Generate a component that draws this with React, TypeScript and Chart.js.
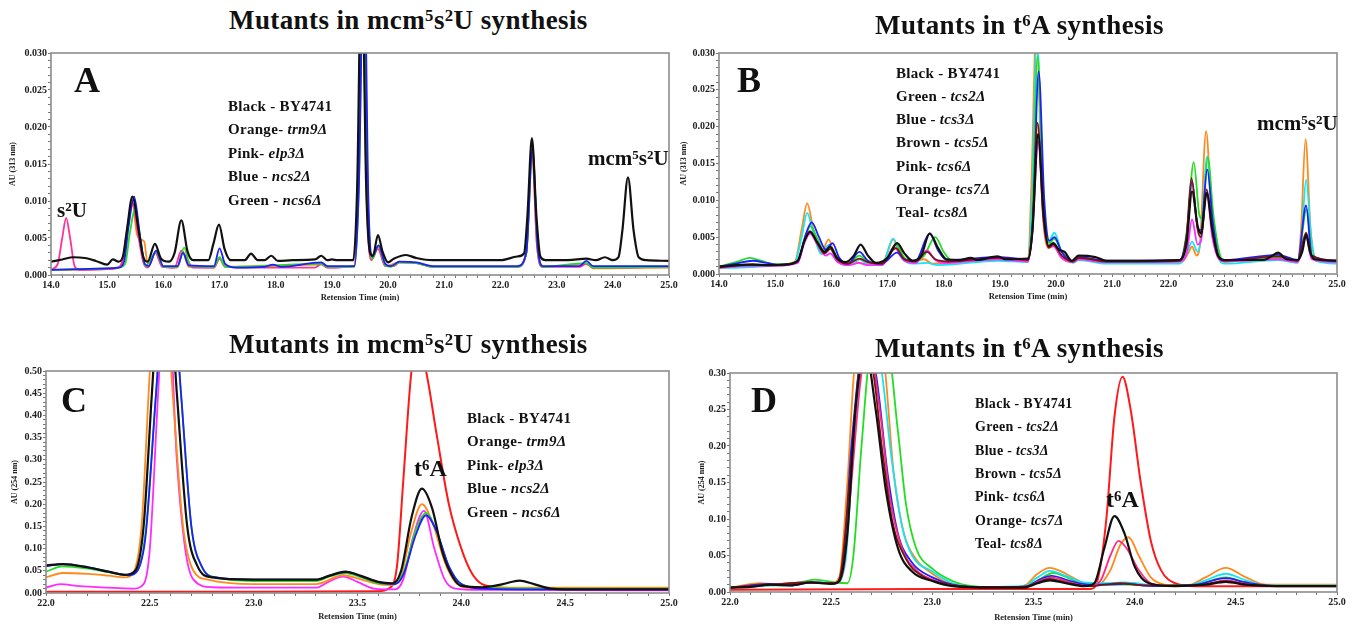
import React, { useEffect, useRef } from "react";
import { Chart, registerables } from "chart.js";
Chart.register(...registerables);

type Pt = [number, number];
const SERIF = "'Liberation Serif', 'Times New Roman', serif";

// ---------- tick labels ----------
const AB_X_TICKS = ["14.0", "15.0", "16.0", "17.0", "18.0", "19.0", "20.0", "21.0", "22.0", "23.0", "24.0", "25.0"];
const AB_Y_TICKS = ["0.000", "0.005", "0.010", "0.015", "0.020", "0.025", "0.030"];
const CD_X_TICKS = ["22.0", "22.5", "23.0", "23.5", "24.0", "24.5", "25.0"];
const C_Y_TICKS = ["0.00", "0.05", "0.10", "0.15", "0.20", "0.25", "0.30", "0.35", "0.40", "0.45", "0.50"];
const D_Y_TICKS = ["0.00", "0.05", "0.10", "0.15", "0.20", "0.25", "0.30"];

// ---------- Panel A (313 nm) ----------
const A_BLACK: Pt[] = [[14.0,0.0018],[14.2,0.0021],[14.4,0.0024],[14.6,0.0023],[14.8,0.0019],[15.0,0.0014],[15.1,0.0021],[15.2,0.0018],[15.28,0.0025],[15.35,0.006],[15.45,0.0106],[15.56,0.006],[15.64,0.0025],[15.72,0.0018],[15.85,0.0042],[15.96,0.0022],[16.1,0.0018],[16.2,0.003],[16.32,0.0074],[16.43,0.0032],[16.53,0.002],[16.8,0.002],[16.89,0.0042],[16.99,0.0068],[17.09,0.0035],[17.2,0.002],[17.45,0.002],[17.56,0.0029],[17.68,0.002],[17.8,0.002],[17.92,0.0026],[18.04,0.0019],[18.3,0.002],[18.7,0.0021],[18.81,0.0026],[18.92,0.002],[19.0,0.0021],[19.1,0.002],[19.38,0.002],[19.45,0.012],[19.53,0.045],[19.61,0.012],[19.68,0.003],[19.73,0.0026],[19.82,0.0054],[19.9,0.0032],[20.0,0.0017],[20.1,0.0022],[20.32,0.0027],[20.5,0.0023],[20.8,0.002],[21.5,0.002],[22.0,0.002],[22.3,0.0025],[22.42,0.0029],[22.48,0.008],[22.56,0.0185],[22.64,0.008],[22.71,0.0025],[22.8,0.002],[23.2,0.002],[23.53,0.0022],[23.7,0.002],[23.86,0.0024],[24.0,0.002],[24.1,0.0024],[24.17,0.006],[24.27,0.0132],[24.37,0.006],[24.46,0.0024],[24.6,0.002],[25.0,0.0019]];
const A_PINK: Pt[] = [[14.0,0.0007],[14.12,0.0015],[14.2,0.005],[14.27,0.0077],[14.34,0.005],[14.42,0.0012],[14.5,0.0007],[15.0,0.0008],[15.2,0.001],[15.28,0.0022],[15.36,0.0065],[15.45,0.0098],[15.55,0.0055],[15.64,0.0018],[15.72,0.001],[15.86,0.003],[15.98,0.0011],[16.2,0.001],[16.32,0.0033],[16.42,0.0022],[16.52,0.001],[16.9,0.001],[17.0,0.0022],[17.1,0.0012],[17.5,0.001],[18.0,0.001],[18.7,0.001],[18.81,0.0015],[18.92,0.001],[19.4,0.0012],[19.47,0.015],[19.54,0.04],[19.62,0.01],[19.7,0.002],[19.82,0.0035],[19.95,0.0012],[20.1,0.0012],[20.2,0.0017],[20.5,0.0016],[20.8,0.0011],[22.3,0.0011],[22.46,0.003],[22.56,0.017],[22.65,0.004],[22.75,0.0011],[23.4,0.0011],[23.53,0.0015],[23.65,0.001],[24.0,0.001],[25.0,0.0011]];
const A_ORANGE: Pt[] = [[14.0,0.0007],[14.5,0.0007],[15.0,0.0008],[15.2,0.001],[15.28,0.002],[15.36,0.006],[15.45,0.0095],[15.53,0.0055],[15.6,0.0048],[15.66,0.0045],[15.72,0.0015],[15.86,0.003],[15.98,0.0011],[16.25,0.001],[16.34,0.0032],[16.45,0.0011],[16.9,0.001],[17.0,0.0022],[17.1,0.0011],[18.81,0.0014],[18.92,0.001],[19.4,0.0012],[19.47,0.015],[19.55,0.045],[19.63,0.01],[19.7,0.002],[19.82,0.0038],[19.95,0.0012],[20.2,0.0017],[20.5,0.0016],[20.8,0.0011],[22.3,0.0011],[22.46,0.003],[22.56,0.017],[22.65,0.004],[22.75,0.0011],[23.53,0.0015],[23.65,0.0009],[25.0,0.001]];
const A_BLUE: Pt[] = [[14.0,0.0007],[14.5,0.0008],[15.0,0.0009],[15.2,0.001],[15.3,0.0018],[15.38,0.0065],[15.48,0.0106],[15.58,0.0055],[15.67,0.0015],[15.74,0.0012],[15.87,0.0033],[16.0,0.0012],[16.25,0.0012],[16.35,0.003],[16.45,0.0013],[16.9,0.0012],[17.0,0.0036],[17.1,0.0015],[17.3,0.001],[17.8,0.0011],[17.95,0.0014],[18.1,0.0011],[18.81,0.0017],[18.92,0.0012],[19.4,0.0012],[19.48,0.012],[19.57,0.045],[19.65,0.01],[19.72,0.0025],[19.83,0.004],[19.95,0.0015],[20.05,0.0012],[20.2,0.0018],[20.5,0.0017],[20.8,0.0012],[22.3,0.0012],[22.46,0.003],[22.57,0.017],[22.66,0.004],[22.76,0.0012],[23.4,0.0012],[23.53,0.0019],[23.65,0.0012],[24.0,0.0012],[25.0,0.0012]];
const A_GREEN: Pt[] = [[14.0,0.0007],[14.5,0.0008],[15.0,0.0009],[15.2,0.001],[15.32,0.0015],[15.41,0.006],[15.5,0.009],[15.59,0.005],[15.68,0.0012],[15.87,0.0031],[16.0,0.0011],[16.25,0.0011],[16.37,0.0037],[16.48,0.0012],[16.9,0.0011],[17.0,0.0024],[17.1,0.0011],[18.81,0.0015],[18.92,0.0011],[19.4,0.0011],[19.48,0.012],[19.56,0.045],[19.64,0.01],[19.72,0.0022],[19.83,0.004],[19.95,0.0013],[20.05,0.0011],[20.2,0.0017],[20.5,0.0016],[20.8,0.0011],[22.3,0.0011],[22.46,0.003],[22.57,0.017],[22.66,0.004],[22.76,0.0011],[23.53,0.0016],[23.65,0.001],[25.0,0.0011]];

// ---------- Panel B (313 nm) ----------
const B_BLACK: Pt[] = [[14.0,0.001],[14.3,0.0012],[14.6,0.0013],[14.9,0.0012],[15.2,0.0013],[15.4,0.0018],[15.52,0.0045],[15.62,0.0057],[15.75,0.0043],[15.88,0.003],[15.98,0.0037],[16.1,0.0022],[16.25,0.0016],[16.4,0.0025],[16.52,0.004],[16.65,0.0025],[16.8,0.0015],[17.0,0.0022],[17.17,0.0042],[17.3,0.0028],[17.45,0.0018],[17.6,0.0025],[17.75,0.0055],[17.9,0.0035],[18.05,0.002],[18.3,0.0019],[18.48,0.0022],[18.6,0.0019],[18.96,0.0024],[19.1,0.002],[19.5,0.0021],[19.58,0.006],[19.68,0.019],[19.78,0.008],[19.87,0.0038],[19.95,0.0042],[20.05,0.0033],[20.15,0.003],[20.28,0.0018],[20.4,0.0025],[20.7,0.0023],[20.9,0.0018],[21.5,0.0018],[22.2,0.0019],[22.32,0.004],[22.42,0.0112],[22.52,0.0065],[22.58,0.0055],[22.68,0.011],[22.78,0.006],[22.88,0.0025],[23.0,0.0019],[23.7,0.0019],[23.85,0.0025],[23.95,0.0029],[24.1,0.002],[24.3,0.0019],[24.38,0.003],[24.45,0.0053],[24.52,0.003],[24.6,0.002],[25.0,0.0018]];
const B_BROWN: Pt[] = [[14.0,0.0009],[14.5,0.0012],[15.0,0.0012],[15.4,0.0017],[15.52,0.0045],[15.62,0.0058],[15.75,0.0042],[15.88,0.0028],[15.98,0.0034],[16.1,0.002],[16.3,0.0014],[16.5,0.0021],[16.65,0.0016],[16.9,0.0014],[17.15,0.0035],[17.3,0.002],[17.5,0.0017],[17.7,0.003],[17.85,0.002],[18.1,0.0017],[18.96,0.0022],[19.5,0.0019],[19.58,0.006],[19.67,0.0205],[19.77,0.008],[19.87,0.0036],[19.95,0.004],[20.1,0.0025],[20.3,0.0017],[20.4,0.0022],[20.9,0.0017],[22.2,0.0018],[22.32,0.005],[22.41,0.013],[22.52,0.006],[22.58,0.005],[22.68,0.0115],[22.78,0.006],[22.9,0.0022],[23.0,0.0018],[23.95,0.0024],[24.3,0.0018],[24.45,0.0056],[24.55,0.0025],[25.0,0.0018]];
const B_GREEN: Pt[] = [[14.0,0.001],[14.3,0.0016],[14.55,0.0022],[14.75,0.0018],[15.0,0.0013],[15.4,0.0017],[15.53,0.005],[15.63,0.0065],[15.75,0.0048],[15.88,0.003],[16.0,0.0035],[16.12,0.002],[16.3,0.0014],[16.5,0.0025],[16.65,0.0016],[16.9,0.0014],[17.15,0.004],[17.3,0.0022],[17.5,0.0017],[17.65,0.0025],[17.85,0.005],[18.0,0.003],[18.15,0.0018],[18.96,0.0022],[19.5,0.0018],[19.58,0.008],[19.67,0.0295],[19.77,0.01],[19.88,0.0042],[19.97,0.0048],[20.1,0.003],[20.28,0.0017],[20.4,0.0022],[20.9,0.0017],[22.2,0.0018],[22.33,0.006],[22.45,0.0152],[22.55,0.008],[22.6,0.0075],[22.7,0.0158],[22.8,0.008],[22.92,0.0025],[23.0,0.0018],[23.95,0.0022],[24.3,0.0019],[24.46,0.0088],[24.56,0.0025],[25.0,0.0017]];
const B_BLUE: Pt[] = [[14.0,0.001],[14.3,0.0014],[14.6,0.0018],[14.85,0.0015],[15.1,0.0012],[15.4,0.0017],[15.55,0.0055],[15.65,0.007],[15.78,0.005],[15.9,0.0033],[16.02,0.0042],[16.14,0.0022],[16.3,0.0014],[16.5,0.003],[16.65,0.0018],[16.9,0.0014],[17.17,0.0029],[17.3,0.002],[17.5,0.0018],[17.75,0.0055],[17.9,0.0032],[18.05,0.0019],[18.96,0.0023],[19.5,0.002],[19.59,0.008],[19.69,0.0275],[19.79,0.01],[19.88,0.0045],[19.97,0.005],[20.1,0.003],[20.28,0.0018],[20.4,0.0023],[20.9,0.0018],[22.2,0.0019],[22.32,0.005],[22.42,0.0125],[22.53,0.006],[22.58,0.006],[22.69,0.0142],[22.79,0.007],[22.9,0.0023],[23.0,0.0019],[23.95,0.0026],[24.3,0.0019],[24.45,0.0093],[24.55,0.0025],[25.0,0.0018]];
const B_PINK: Pt[] = [[14.0,0.0008],[14.5,0.0011],[15.0,0.0011],[15.4,0.0015],[15.52,0.0042],[15.62,0.0055],[15.75,0.004],[15.9,0.0025],[15.98,0.0028],[16.1,0.0017],[16.3,0.0012],[16.5,0.0015],[16.65,0.0012],[16.9,0.0012],[17.12,0.0036],[17.3,0.0018],[17.5,0.0015],[17.7,0.0032],[17.85,0.0019],[18.0,0.0015],[18.96,0.002],[19.5,0.0017],[19.58,0.006],[19.68,0.018],[19.78,0.007],[19.87,0.0036],[19.95,0.0038],[20.1,0.0022],[20.3,0.0016],[20.4,0.002],[20.9,0.0016],[22.2,0.0017],[22.33,0.003],[22.42,0.0074],[22.52,0.004],[22.58,0.0045],[22.68,0.011],[22.78,0.005],[22.9,0.002],[23.0,0.0017],[23.95,0.002],[24.3,0.0016],[24.45,0.005],[24.55,0.002],[25.0,0.0016]];
const B_ORANGE: Pt[] = [[14.0,0.0009],[14.5,0.0011],[15.0,0.0012],[15.35,0.0017],[15.47,0.006],[15.57,0.0096],[15.68,0.006],[15.82,0.0028],[15.95,0.0047],[16.07,0.0022],[16.2,0.0014],[16.4,0.0017],[16.55,0.0014],[16.9,0.0013],[17.0,0.003],[17.1,0.0047],[17.22,0.0025],[17.4,0.0016],[17.65,0.002],[17.8,0.0014],[18.96,0.002],[19.5,0.0018],[19.56,0.012],[19.65,0.034],[19.75,0.01],[19.87,0.0035],[19.95,0.0038],[20.1,0.0022],[20.3,0.0016],[20.4,0.002],[20.9,0.0016],[22.25,0.0017],[22.35,0.0028],[22.42,0.0037],[22.5,0.0025],[22.56,0.004],[22.67,0.0194],[22.77,0.008],[22.9,0.0022],[23.0,0.0017],[23.95,0.0021],[24.3,0.0018],[24.36,0.006],[24.44,0.0183],[24.53,0.006],[24.62,0.0022],[25.0,0.0017]];
const B_TEAL: Pt[] = [[14.0,0.0008],[14.5,0.0009],[15.0,0.0011],[15.35,0.0016],[15.47,0.005],[15.57,0.0083],[15.68,0.0055],[15.82,0.0027],[15.96,0.004],[16.08,0.002],[16.3,0.0012],[16.5,0.002],[16.65,0.0013],[16.9,0.0012],[17.1,0.0048],[17.25,0.0022],[17.45,0.0014],[17.7,0.0015],[17.9,0.0012],[18.96,0.0018],[19.5,0.0016],[19.57,0.01],[19.66,0.032],[19.76,0.011],[19.87,0.0045],[19.97,0.0056],[20.1,0.003],[20.3,0.0015],[20.4,0.0019],[20.9,0.0014],[22.2,0.0014],[22.33,0.0028],[22.42,0.0044],[22.52,0.003],[22.58,0.005],[22.69,0.016],[22.79,0.007],[22.9,0.002],[23.0,0.0014],[23.95,0.0019],[24.3,0.0015],[24.37,0.005],[24.45,0.0128],[24.54,0.005],[24.62,0.0018],[25.0,0.0014]];

// ---------- Panel C (254 nm) ----------
const C_BLACK: Pt[] = [[22.0,0.062],[22.08,0.065],[22.2,0.058],[22.3,0.048],[22.38,0.041],[22.43,0.05],[22.47,0.15],[22.51,0.45],[22.57,0.85],[22.63,0.45],[22.68,0.15],[22.73,0.06],[22.8,0.035],[23.0,0.03],[23.3,0.03],[23.36,0.038],[23.44,0.048],[23.52,0.038],[23.6,0.025],[23.67,0.022],[23.71,0.05],[23.76,0.17],[23.81,0.235],[23.86,0.19],[23.91,0.09],[23.96,0.035],[24.0,0.016],[24.1,0.013],[24.2,0.02],[24.28,0.028],[24.35,0.02],[24.43,0.01],[24.6,0.008],[25.0,0.008]];
const C_ORANGE: Pt[] = [[22.0,0.035],[22.08,0.045],[22.2,0.043],[22.3,0.039],[22.38,0.035],[22.42,0.045],[22.46,0.15],[22.5,0.5],[22.55,0.85],[22.61,0.45],[22.66,0.15],[22.71,0.05],[22.78,0.03],[23.0,0.02],[23.3,0.02],[23.43,0.04],[23.52,0.03],[23.6,0.02],[23.67,0.018],[23.71,0.04],[23.76,0.14],[23.81,0.2],[23.86,0.16],[23.92,0.07],[23.97,0.025],[24.03,0.012],[24.5,0.012],[25.0,0.012]];
const C_PINK: Pt[] = [[22.0,0.012],[22.07,0.02],[22.15,0.016],[22.3,0.012],[22.42,0.01],[22.47,0.02],[22.5,0.1],[22.54,0.45],[22.58,0.75],[22.63,0.3],[22.67,0.1],[22.71,0.03],[22.8,0.013],[23.0,0.012],[23.3,0.012],[23.36,0.025],[23.43,0.037],[23.5,0.025],[23.58,0.01],[23.68,0.008],[23.72,0.03],[23.77,0.13],[23.82,0.185],[23.87,0.1],[23.92,0.03],[23.97,0.01],[24.1,0.007],[25.0,0.006]];
const C_BLUE: Pt[] = [[22.0,0.06],[22.08,0.065],[22.2,0.058],[22.3,0.048],[22.4,0.04],[22.44,0.05],[22.48,0.13],[22.53,0.45],[22.59,0.8],[22.65,0.45],[22.7,0.15],[22.75,0.06],[22.82,0.035],[23.0,0.03],[23.3,0.03],[23.37,0.04],[23.45,0.047],[23.53,0.035],[23.62,0.022],[23.68,0.02],[23.72,0.04],[23.78,0.13],[23.83,0.175],[23.88,0.14],[23.94,0.06],[24.0,0.02],[24.1,0.01],[24.5,0.008],[25.0,0.008]];
const C_GREEN: Pt[] = [[22.0,0.048],[22.08,0.06],[22.2,0.055],[22.3,0.047],[22.4,0.04],[22.44,0.05],[22.48,0.14],[22.53,0.45],[22.59,0.8],[22.65,0.45],[22.7,0.15],[22.75,0.06],[22.82,0.035],[23.0,0.027],[23.3,0.027],[23.37,0.038],[23.44,0.045],[23.52,0.035],[23.6,0.022],[23.67,0.02],[23.72,0.045],[23.78,0.14],[23.83,0.18],[23.88,0.14],[23.94,0.06],[24.0,0.02],[24.1,0.012],[24.5,0.01],[25.0,0.01]];
const C_RED: Pt[] = [[22.0,0.003],[23.0,0.003],[23.6,0.004],[23.65,0.01],[23.69,0.06],[23.72,0.25],[23.76,0.5],[23.79,0.56],[23.83,0.5],[23.88,0.36],[23.94,0.2],[24.0,0.1],[24.05,0.045],[24.1,0.02],[24.2,0.012],[24.5,0.01],[25.0,0.01]];

// ---------- Panel D (254 nm) ----------
const D_BLACK: Pt[] = [[22.0,0.006],[22.1,0.007],[22.2,0.01],[22.3,0.009],[22.4,0.013],[22.5,0.011],[22.54,0.015],[22.58,0.08],[22.62,0.25],[22.67,0.33],[22.72,0.25],[22.77,0.14],[22.83,0.06],[22.9,0.028],[23.0,0.015],[23.1,0.008],[23.3,0.006],[23.45,0.006],[23.52,0.012],[23.58,0.016],[23.66,0.012],[23.75,0.008],[23.8,0.012],[23.85,0.06],[23.9,0.104],[23.95,0.08],[24.0,0.035],[24.07,0.012],[24.2,0.008],[24.35,0.01],[24.45,0.014],[24.55,0.01],[24.7,0.008],[25.0,0.008]];
const D_GREEN: Pt[] = [[22.0,0.006],[22.2,0.009],[22.3,0.01],[22.42,0.017],[22.52,0.013],[22.58,0.012],[22.61,0.05],[22.65,0.2],[22.7,0.34],[22.77,0.35],[22.83,0.22],[22.87,0.12],[22.92,0.06],[23.0,0.032],[23.1,0.015],[23.2,0.008],[23.4,0.006],[23.5,0.013],[23.6,0.026],[23.7,0.016],[23.8,0.01],[23.95,0.01],[24.1,0.009],[24.3,0.01],[24.45,0.02],[24.55,0.013],[24.7,0.009],[25.0,0.009]];
const D_BLUE: Pt[] = [[22.0,0.006],[22.2,0.011],[22.3,0.009],[22.4,0.013],[22.52,0.012],[22.56,0.04],[22.6,0.2],[22.66,0.33],[22.72,0.3],[22.78,0.16],[22.83,0.08],[22.9,0.04],[23.0,0.02],[23.1,0.01],[23.3,0.006],[23.47,0.008],[23.53,0.017],[23.59,0.022],[23.67,0.016],[23.77,0.01],[23.85,0.01],[23.95,0.011],[24.1,0.008],[24.3,0.01],[24.45,0.019],[24.55,0.013],[24.7,0.008],[25.0,0.008]];
const D_BROWN: Pt[] = [[22.0,0.006],[22.2,0.01],[22.4,0.013],[22.52,0.012],[22.55,0.03],[22.6,0.18],[22.65,0.32],[22.7,0.31],[22.75,0.2],[22.8,0.1],[22.87,0.045],[22.95,0.022],[23.05,0.012],[23.2,0.007],[23.45,0.007],[23.52,0.013],[23.58,0.018],[23.66,0.013],[23.77,0.008],[23.85,0.01],[23.93,0.012],[24.05,0.009],[24.3,0.009],[24.45,0.015],[24.55,0.01],[24.7,0.008],[25.0,0.008]];
const D_PINK: Pt[] = [[22.0,0.006],[22.2,0.01],[22.4,0.013],[22.52,0.012],[22.56,0.03],[22.6,0.15],[22.65,0.3],[22.69,0.33],[22.74,0.25],[22.79,0.13],[22.85,0.06],[22.92,0.03],[23.0,0.017],[23.1,0.009],[23.3,0.006],[23.47,0.008],[23.53,0.015],[23.59,0.02],[23.67,0.014],[23.77,0.008],[23.83,0.015],[23.88,0.05],[23.92,0.07],[23.96,0.06],[24.02,0.03],[24.08,0.012],[24.2,0.008],[24.35,0.01],[24.45,0.016],[24.55,0.011],[24.7,0.008],[25.0,0.008]];
const D_ORANGE: Pt[] = [[22.0,0.006],[22.15,0.012],[22.25,0.01],[22.4,0.013],[22.5,0.012],[22.54,0.02],[22.58,0.15],[22.62,0.32],[22.7,0.36],[22.76,0.32],[22.81,0.16],[22.86,0.08],[22.92,0.045],[23.0,0.025],[23.1,0.01],[23.3,0.006],[23.45,0.008],[23.52,0.025],[23.58,0.033],[23.66,0.025],[23.75,0.012],[23.82,0.01],[23.88,0.03],[23.93,0.065],[23.97,0.075],[24.02,0.05],[24.08,0.02],[24.15,0.01],[24.25,0.008],[24.35,0.02],[24.45,0.033],[24.55,0.02],[24.65,0.01],[25.0,0.01]];
const D_TEAL: Pt[] = [[22.0,0.006],[22.2,0.009],[22.4,0.014],[22.52,0.012],[22.57,0.04],[22.61,0.2],[22.67,0.34],[22.73,0.33],[22.8,0.18],[22.85,0.09],[22.9,0.05],[23.0,0.028],[23.1,0.012],[23.25,0.007],[23.45,0.008],[23.52,0.02],[23.58,0.029],[23.66,0.022],[23.75,0.013],[23.85,0.012],[23.95,0.013],[24.1,0.009],[24.25,0.008],[24.35,0.016],[24.45,0.025],[24.55,0.016],[24.65,0.009],[25.0,0.009]];
const D_RED: Pt[] = [[22.0,0.003],[23.0,0.004],[23.78,0.004],[23.82,0.02],[23.86,0.1],[23.9,0.24],[23.94,0.295],[23.98,0.25],[24.03,0.15],[24.08,0.07],[24.13,0.03],[24.2,0.012],[24.3,0.008],[25.0,0.008]];

// ---------- legends ----------
type Leg = [string, string, boolean];
const LEG_AC: Leg[] = [["Black - ", "BY4741", false], ["Orange- ", "trm9Δ", true], ["Pink- ", "elp3Δ", true], ["Blue - ", "ncs2Δ", true], ["Green - ", "ncs6Δ", true]];
const LEG_BD: Leg[] = [["Black - ", "BY4741", false], ["Green - ", "tcs2Δ", true], ["Blue - ", "tcs3Δ", true], ["Brown - ", "tcs5Δ", true], ["Pink- ", "tcs6Δ", true], ["Orange- ", "tcs7Δ", true], ["Teal- ", "tcs8Δ", true]];

const COL = {
  black: "#111111", orange: "#ff8a1c", pinkA: "#ff3399", blue: "#1e1eff", green: "#22dd22",
  teal: "#19e3f2", brown: "#7a1414", magenta: "#ff2bff", red: "#ff1a1a", pinkD: "#ff2a7f",
};

type Series = { data: Pt[]; color: string; width?: number };
type PanelCfg = {
  L: number; T: number; R: number; B: number;
  ml: number; mt: number; mr: number; mb: number;
  xMin: number; xMax: number; xStep: number; xTicks: string[];
  yMin: number; yMax: number; yStep: number; yTicks: string[];
  yTitle: string; yTitlePad: number;
  series: Series[];
};

const boxPlugin = {
  id: "boxFrame",
  afterDatasetsDraw(chart: any) {
    const { ctx, chartArea } = chart;
    const { left, top, right, bottom } = chartArea;
    ctx.save();
    ctx.strokeStyle = "#8c8c8c";
    ctx.lineWidth = 1.6;
    ctx.strokeRect(left, top, right - left, bottom - top);
    ctx.restore();
  },
};

function tickCb(labels: string[], step: number) {
  return (v: any) => {
    const n = Number(v);
    for (const l of labels) if (Math.abs(parseFloat(l) - n) < step / 10) return l;
    return "";
  };
}

function Panel({ cfg }: { cfg: PanelCfg }) {
  const ref = useRef<HTMLCanvasElement>(null);
  const w = cfg.R - cfg.L + cfg.ml + cfg.mr;
  const h = cfg.B - cfg.T + cfg.mt + cfg.mb;
  useEffect(() => {
    const tickFont = { family: SERIF, size: 10, weight: "bold" as const };
    const chart = new Chart(ref.current as HTMLCanvasElement, {
      type: "line",
      data: {
        datasets: cfg.series.map((s) => ({
          data: s.data.map(([x, y]) => ({ x, y })),
          borderColor: s.color,
          borderWidth: s.width ?? 1.8,
          pointRadius: 0,
          cubicInterpolationMode: "monotone" as const,
          fill: false,
          clip: 0,
        })),
      },
      options: {
        animation: false,
        responsive: false,
        events: [],
        layout: { padding: { top: cfg.mt, right: cfg.mr, left: 0, bottom: 0 } },
        plugins: { legend: { display: false }, tooltip: { enabled: false } },
        scales: {
          x: {
            type: "linear",
            min: cfg.xMin,
            max: cfg.xMax,
            afterFit: (s: any) => { s.height = cfg.mb; },
            ticks: { stepSize: cfg.xStep, autoSkip: false, maxRotation: 0, minRotation: 0, padding: 1, color: "#222", font: tickFont, callback: tickCb(cfg.xTicks, cfg.xStep) },
            grid: { display: true, drawOnChartArea: false, drawTicks: true, tickLength: 3, color: "#777" },
            border: { display: false },
            title: { display: true, text: "Retension Time (min)", color: "#222", font: { family: SERIF, size: 8.5, weight: "bold" }, padding: { top: 0, bottom: 2 } },
          },
          y: {
            type: "linear",
            min: cfg.yMin,
            max: cfg.yMax,
            afterFit: (s: any) => { s.width = cfg.ml; },
            ticks: { stepSize: cfg.yStep, autoSkip: false, padding: 1, color: "#222", font: tickFont, callback: tickCb(cfg.yTicks, cfg.yStep) },
            grid: { display: true, drawOnChartArea: false, drawTicks: true, tickLength: 3, color: "#777" },
            border: { display: false },
            title: { display: true, text: cfg.yTitle, color: "#222", font: { family: SERIF, size: 8, weight: "bold" }, padding: { top: cfg.yTitlePad, bottom: 0 } },
          },
        },
      } as any,
      plugins: [boxPlugin],
    });
    return () => chart.destroy();
  }, []);
  return (
    <canvas
      ref={ref}
      width={w}
      height={h}
      style={{ position: "absolute", left: cfg.L - cfg.ml, top: cfg.T - cfg.mt, width: w, height: h }}
    />
  );
}

function Txt({ x, y, size, children, style }: { x: number; y: number; size: number; children: any; style?: any }) {
  return (
    <div style={{ position: "absolute", left: x, top: y - size / 2, fontSize: size, lineHeight: `${size}px`, fontFamily: SERIF, fontWeight: "bold", whiteSpace: "nowrap", color: "#111", ...style }}>
      {children}
    </div>
  );
}

const Sup = ({ children }: { children: any }) => (
  <span style={{ fontSize: "0.62em", position: "relative", top: "-0.42em" }}>{children}</span>
);

function Legend({ x, y, gap, size, items }: { x: number; y: number; gap: number; size: number; items: Leg[] }) {
  return (
    <>
      {items.map(([a, b, it], i) => (
        <Txt key={i} x={x} y={y + i * gap} size={size} style={{ letterSpacing: "0.3px" }}>
          {a}
          <span style={{ fontStyle: it ? "italic" : "normal" }}>{b}</span>
        </Txt>
      ))}
    </>
  );
}

const PANEL_A: PanelCfg = {
  L: 51, T: 53, R: 669, B: 275, ml: 51, mt: 13, mr: 15, mb: 30,
  xMin: 14, xMax: 25, xStep: 0.2, xTicks: AB_X_TICKS,
  yMin: 0, yMax: 0.03, yStep: 0.001, yTicks: AB_Y_TICKS,
  yTitle: "AU (313 nm)", yTitlePad: 8,
  series: [
    { data: A_BLACK, color: COL.black, width: 2.2 },
    { data: A_BLUE, color: COL.blue },
    { data: A_GREEN, color: COL.green },
    { data: A_PINK, color: COL.pinkA },
    { data: A_ORANGE, color: COL.orange },
  ],
};
const PANEL_B: PanelCfg = {
  L: 719, T: 53, R: 1337, B: 274, ml: 45, mt: 13, mr: 15, mb: 30,
  xMin: 14, xMax: 25, xStep: 0.2, xTicks: AB_X_TICKS,
  yMin: 0, yMax: 0.03, yStep: 0.001, yTicks: AB_Y_TICKS,
  yTitle: "AU (313 nm)", yTitlePad: 5,
  series: [
    { data: B_BLACK, color: COL.black, width: 2.2 },
    { data: B_BROWN, color: COL.brown },
    { data: B_BLUE, color: COL.blue },
    { data: B_PINK, color: COL.magenta },
    { data: B_GREEN, color: COL.green },
    { data: B_TEAL, color: COL.teal },
    { data: B_ORANGE, color: COL.orange },
  ],
};
const PANEL_C: PanelCfg = {
  L: 46, T: 371, R: 669, B: 593, ml: 46, mt: 13, mr: 15, mb: 31,
  xMin: 22, xMax: 25, xStep: 0.1, xTicks: CD_X_TICKS,
  yMin: 0, yMax: 0.5, yStep: 0.01, yTicks: C_Y_TICKS,
  yTitle: "AU (254 nm)", yTitlePad: 10,
  series: [
    { data: C_BLACK, color: COL.black, width: 2.2 },
    { data: C_BLUE, color: COL.blue },
    { data: C_GREEN, color: COL.green },
    { data: C_ORANGE, color: COL.orange },
    { data: C_PINK, color: COL.magenta },
    { data: C_RED, color: COL.red, width: 2 },
  ],
};
const PANEL_D: PanelCfg = {
  L: 730, T: 373, R: 1337, B: 592, ml: 45, mt: 13, mr: 15, mb: 33,
  xMin: 22, xMax: 25, xStep: 0.1, xTicks: CD_X_TICKS,
  yMin: 0, yMax: 0.3, yStep: 0.01, yTicks: D_Y_TICKS,
  yTitle: "AU (254 nm)", yTitlePad: 12,
  series: [
    { data: D_BLACK, color: COL.black, width: 2.2 },
    { data: D_BROWN, color: COL.brown },
    { data: D_PINK, color: COL.pinkD },
    { data: D_BLUE, color: COL.blue },
    { data: D_TEAL, color: COL.teal },
    { data: D_ORANGE, color: COL.orange },
    { data: D_GREEN, color: COL.green },
    { data: D_RED, color: COL.red, width: 2 },
  ],
};

const TITLE_STYLE = { letterSpacing: "0.4px" };

export default function App() {
  return (
    <div style={{ position: "absolute", left: 0, top: 0, width: 1356, height: 627, background: "#fff", overflow: "hidden" }}>
      <Panel cfg={PANEL_A} />
      <Panel cfg={PANEL_B} />
      <Panel cfg={PANEL_C} />
      <Panel cfg={PANEL_D} />

      <Txt x={229} y={20} size={27} style={TITLE_STYLE}>Mutants in mcm<Sup>5</Sup>s<Sup>2</Sup>U synthesis</Txt>
      <Txt x={875} y={25} size={27} style={TITLE_STYLE}>Mutants in t<Sup>6</Sup>A synthesis</Txt>
      <Txt x={229} y={344} size={27} style={TITLE_STYLE}>Mutants in mcm<Sup>5</Sup>s<Sup>2</Sup>U synthesis</Txt>
      <Txt x={875} y={348} size={27} style={TITLE_STYLE}>Mutants in t<Sup>6</Sup>A synthesis</Txt>

      <Txt x={74} y={80} size={36}>A</Txt>
      <Txt x={737} y={80} size={36}>B</Txt>
      <Txt x={61} y={400} size={36}>C</Txt>
      <Txt x={751} y={400} size={36}>D</Txt>

      <Legend x={228} y={106} gap={23.5} size={15} items={LEG_AC} />
      <Legend x={896} y={73} gap={23.3} size={15} items={LEG_BD} />
      <Legend x={467} y={418} gap={23.5} size={15} items={LEG_AC} />
      <Legend x={975} y={404} gap={23.3} size={14} items={LEG_BD} />

      <Txt x={57} y={210} size={21}>s<Sup>2</Sup>U</Txt>
      <Txt x={588} y={158} size={21}>mcm<Sup>5</Sup>s<Sup>2</Sup>U</Txt>
      <Txt x={1257} y={123} size={21}>mcm<Sup>5</Sup>s<Sup>2</Sup>U</Txt>
      <Txt x={414} y={468} size={24}>t<Sup>6</Sup>A</Txt>
      <Txt x={1106} y={499} size={24}>t<Sup>6</Sup>A</Txt>
    </div>
  );
}
